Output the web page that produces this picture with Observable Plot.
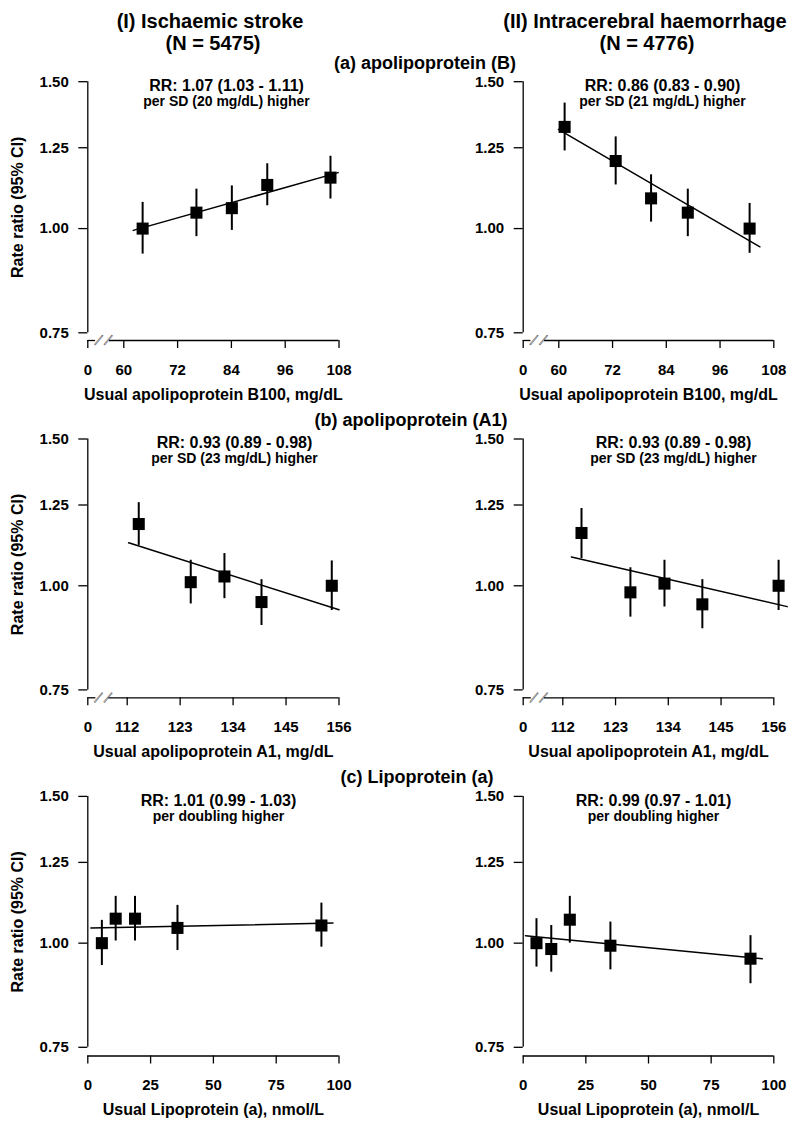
<!DOCTYPE html>
<html><head><meta charset="utf-8">
<script src="https://cdn.jsdelivr.net/npm/d3@7"></script>
<script src="https://cdn.jsdelivr.net/npm/@observablehq/plot@0.6"></script>
<style>
body{margin:0;background:#fff;}
#chart{position:relative;width:800px;height:1127px;font-family:'Liberation Sans',Arial,sans-serif;font-weight:bold;color:#000;overflow:hidden;}
.panel{position:absolute;}
.ttl{position:absolute;transform:translate(-50%,-50%);white-space:nowrap;line-height:1;z-index:2;}
</style></head>
<body><div id="chart"></div>
<script>
// ---------------- Text ----------------
const colTitles = ["(I) Ischaemic stroke", "(II) Intracerebral haemorrhage"];
const colN = ["(N = 5475)", "(N = 4776)"];
const sectionTitles = ["(a) apolipoprotein (B)", "(b) apolipoprotein (A1)", "(c) Lipoprotein (a)"];
const yTitle = "Rate ratio (95% CI)";
const yTickValues = [0.75, 1.00, 1.25, 1.50];
const xTicksApoB = [0, 60, 72, 84, 96, 108];
const xTicksApoA1 = [0, 112, 123, 134, 145, 156];
const xTicksLpa = [0, 25, 50, 75, 100];
const xTitles = ["Usual apolipoprotein B100, mg/dL", "Usual apolipoprotein A1, mg/dL", "Usual Lipoprotein (a), nmol/L"];
const rrText = [
  ["RR: 1.07 (1.03 - 1.11)", "per SD (20 mg/dL) higher"],
  ["RR: 0.86 (0.83 - 0.90)", "per SD (21 mg/dL) higher"],
  ["RR: 0.93 (0.89 - 0.98)", "per SD (23 mg/dL) higher"],
  ["RR: 0.93 (0.89 - 0.98)", "per SD (23 mg/dL) higher"],
  ["RR: 1.01 (0.99 - 1.03)", "per doubling higher"],
  ["RR: 0.99 (0.97 - 1.01)", "per doubling higher"]
];

// ---------------- Data ----------------
// (a) apolipoprotein B — ischaemic stroke
const apoB_IS_x  = [64.2, 76.2, 84.1, 92.0, 106.1];
const apoB_IS_rr = [1.000, 1.045, 1.058, 1.128, 1.151];
const apoB_IS_lo = [0.932, 0.978, 0.995, 1.065, 1.085];
const apoB_IS_hi = [1.075, 1.115, 1.125, 1.196, 1.221];
const apoB_IS_fitX = [62.1, 107.8];
const apoB_IS_fitY = [0.995, 1.167];
// (a) apolipoprotein B — intracerebral haemorrhage
const apoB_ICH_x  = [61.3, 72.7, 80.6, 88.8, 102.6];
const apoB_ICH_rr = [1.324, 1.205, 1.087, 1.045, 1.000];
const apoB_ICH_lo = [1.239, 1.128, 1.018, 0.978, 0.934];
const apoB_ICH_hi = [1.414, 1.288, 1.160, 1.115, 1.072];
const apoB_ICH_fitX = [59.3, 104.9];
const apoB_ICH_fitY = [1.315, 0.951];
// (b) apolipoprotein A1 — ischaemic stroke
const apoA1_IS_x  = [114.4, 125.2, 132.2, 139.9, 154.5];
const apoA1_IS_rr = [1.186, 1.010, 1.026, 0.956, 1.000];
const apoA1_IS_lo = [1.118, 0.951, 0.965, 0.896, 0.934];
const apoA1_IS_hi = [1.258, 1.073, 1.093, 1.017, 1.071];
const apoA1_IS_fitX = [112.3, 156.0];
const apoA1_IS_fitY = [1.126, 0.936];
// (b) apolipoprotein A1 — intracerebral haemorrhage
const apoA1_ICH_x  = [115.9, 126.1, 133.2, 141.1, 157.0];
const apoA1_ICH_rr = [1.157, 0.982, 1.006, 0.950, 1.000];
const apoA1_ICH_lo = [1.078, 0.917, 0.943, 0.888, 0.934];
const apoA1_ICH_hi = [1.238, 1.051, 1.073, 1.017, 1.073];
const apoA1_ICH_fitX = [113.8, 158.8];
const apoA1_ICH_fitY = [1.083, 0.944];
// (c) Lipoprotein(a) — ischaemic stroke
const lpa_IS_x  = [5.6, 11.1, 18.8, 35.7, 93.0];
const lpa_IS_rr = [1.000, 1.070, 1.070, 1.043, 1.050];
const lpa_IS_lo = [0.940, 1.006, 1.006, 0.980, 0.989];
const lpa_IS_hi = [1.065, 1.138, 1.138, 1.110, 1.117];
const lpa_IS_fitX = [1.2, 97.6];
const lpa_IS_fitY = [1.043, 1.057];
// (c) Lipoprotein(a) — intracerebral haemorrhage
const lpa_ICH_x  = [5.3, 11.2, 18.6, 34.8, 90.7];
const lpa_ICH_rr = [1.000, 0.984, 1.067, 0.993, 0.958];
const lpa_ICH_lo = [0.936, 0.923, 1.000, 0.929, 0.894];
const lpa_ICH_hi = [1.070, 1.050, 1.138, 1.060, 1.021];
const lpa_ICH_fitX = [0.9, 95.4];
const lpa_ICH_fitY = [1.021, 0.958];

// ---------------- Layout (pixels) ----------------
const rows = [
  {top: 55,  height: 350, y15: 81.2,  y075: 332.3,  axis: 340},
  {top: 405, height: 360, y15: 438.5, y075: 689.4,  axis: 697.3},
  {top: 765, height: 362, y15: 795.9, y075: 1046.8, axis: 1055.5}
];
const cols = [{left: 0}, {left: 400}];
const xScales = [
  {domain: [0, 60, 108], ranges: [[87.3, 123.3, 338.5], [522.7, 558.3, 773.3]], ticks: xTicksApoB, gap: [13, 36], slashes: [19, 35]},
  {domain: [0, 112, 156], ranges: [[87.3, 126.7, 338.5], [522.7, 562.3, 773.3]], ticks: xTicksApoA1, gap: [23, 60], slashes: [32, 59]},
  {domain: [0, 100], ranges: [[87.3, 338.5], [522.7, 773.3]], ticks: xTicksLpa, gap: null, slashes: null}
];
const rrCenters = [[226, 662], [234, 673], [218, 653]];

const series = [
  [[apoB_IS_x, apoB_IS_rr, apoB_IS_lo, apoB_IS_hi, apoB_IS_fitX, apoB_IS_fitY],
   [apoB_ICH_x, apoB_ICH_rr, apoB_ICH_lo, apoB_ICH_hi, apoB_ICH_fitX, apoB_ICH_fitY]],
  [[apoA1_IS_x, apoA1_IS_rr, apoA1_IS_lo, apoA1_IS_hi, apoA1_IS_fitX, apoA1_IS_fitY],
   [apoA1_ICH_x, apoA1_ICH_rr, apoA1_ICH_lo, apoA1_ICH_hi, apoA1_ICH_fitX, apoA1_ICH_fitY]],
  [[lpa_IS_x, lpa_IS_rr, lpa_IS_lo, lpa_IS_hi, lpa_IS_fitX, lpa_IS_fitY],
   [lpa_ICH_x, lpa_ICH_rr, lpa_ICH_lo, lpa_ICH_hi, lpa_ICH_fitX, lpa_ICH_fitY]]
];

const chart = document.getElementById("chart");
const W = 400;

function panel(r, c) {
  const row = rows[r], col = cols[c], xs = xScales[r];
  const [xv, rr, lo, hi, fx, fy] = series[r][c];
  const pts = xv.map((x, i) => ({x, rr: rr[i], lo: lo[i], hi: hi[i]}));
  const fit = fx.map((x, i) => ({x, y: fy[i]}));
  const xr = xs.ranges[c].map(v => v - col.left);
  const yr = [row.y075 - row.top, row.y15 - row.top];
  const axisLocal = row.axis - row.top;
  const marginBottom = row.height - axisLocal;
  const marginLeft = xr[0];
  const marginRight = W - xr[xr.length - 1];
  const yMid = (yr[0] + yr[1]) / 2;
  const marginTop = 2 * yMid - axisLocal;
  const xmax = xs.domain[xs.domain.length - 1];
  const lineDy = row.axis - row.y075;
  const frameCx = (marginLeft + W - marginRight) / 2;
  const rrDx = rrCenters[r][c] - col.left - frameCx;
  const rr1Dy = (row.y15 + 4 - row.top) - marginTop;
  const rr2Dy = (row.y15 + 20 - row.top) - marginTop;
  const marks = [
    Plot.ruleX([0], {y1: 0.75, y2: 1.5, strokeWidth: 1.3}),
    Plot.ruleY([0.75], {x1: 0, x2: xs.gap ? xs.gap[0] : xmax, dy: lineDy, strokeWidth: 1.3}),
    Plot.axisY({ticks: yTickValues, tickFormat: d3.format(".2f"), tickSize: 9, tickPadding: 10, label: null, strokeWidth: 1.3, fontSize: 15}),
    Plot.axisX({ticks: xs.ticks, tickFormat: d => String(d), tickSize: 8, tickPadding: 15.5, label: null, strokeWidth: 1.3, fontSize: 15}),
    Plot.line(fit, {x: "x", y: "y", strokeWidth: 1.5}),
    Plot.ruleX(pts, {x: "x", y1: "lo", y2: "hi", strokeWidth: 2}),
    Plot.dot(pts, {x: "x", y: "rr", symbol: "square", r: 6.8, fill: "black"}),
    Plot.text([rrText[r * 2 + c][0]], {text: d => d, frameAnchor: "top", textAnchor: "middle", dx: rrDx, dy: rr1Dy, lineAnchor: "middle", fontSize: 16, fontWeight: "bold"}),
    Plot.text([rrText[r * 2 + c][1]], {text: d => d, frameAnchor: "top", textAnchor: "middle", dx: rrDx, dy: rr2Dy, lineAnchor: "middle", fontSize: 14, fontWeight: "bold"}),
    Plot.text([xTitles[r]], {text: d => d, frameAnchor: "bottom", textAnchor: "middle", dy: 54, lineAnchor: "middle", fontSize: 16, fontWeight: "bold"})
  ];
  if (xs.gap) {
    marks.push(Plot.ruleY([0.75], {x1: xs.gap[1], x2: xmax, dy: lineDy, strokeWidth: 1.3}));
    marks.push(Plot.text(xs.slashes, {x: d => d, text: () => "|", frameAnchor: "bottom", textAnchor: "middle", rotate: 40, lineAnchor: "middle", fontSize: 13, fontWeight: "normal", stroke: "black", strokeWidth: 0.4, dy: -1}));
  }
  if (c === 0) {
    marks.push(Plot.text([yTitle], {text: d => d, frameAnchor: "left", textAnchor: "middle", rotate: -90, dx: 17 - marginLeft, lineAnchor: "middle", fontSize: 16, fontWeight: "bold"}));
  }
  const svg = Plot.plot({
    width: W, height: row.height,
    marginLeft, marginRight, marginTop, marginBottom,
    x: {type: "linear", domain: xs.domain, range: xr},
    y: {type: "log", domain: [0.75, 1.5], range: yr},
    style: {fontFamily: "'Liberation Sans', Arial, sans-serif", fontSize: "15px", fontWeight: "bold", color: "black", background: "transparent", overflow: "visible"},
    marks
  });
  svg.classList.add("panel");
  svg.style.position = "absolute";
  svg.style.left = col.left + "px";
  svg.style.top = row.top + "px";
  chart.appendChild(svg);
}

for (let r = 0; r < 3; r++) for (let c = 0; c < 2; c++) panel(r, c);

function label(text, x, y, size) {
  const d = document.createElement("div");
  d.className = "ttl";
  d.textContent = text;
  d.style.left = x + "px";
  d.style.top = y + "px";
  d.style.fontSize = size + "px";
  chart.appendChild(d);
}
label(colTitles[0], 210, 21, 20);
label(colN[0], 213, 43, 20);
label(colTitles[1], 645, 21, 20);
label(colN[1], 647, 43, 20);
label(sectionTitles[0], 425, 63, 18);
label(sectionTitles[1], 411, 420, 18);
label(sectionTitles[2], 417, 777, 18);
</script>
</body></html>
